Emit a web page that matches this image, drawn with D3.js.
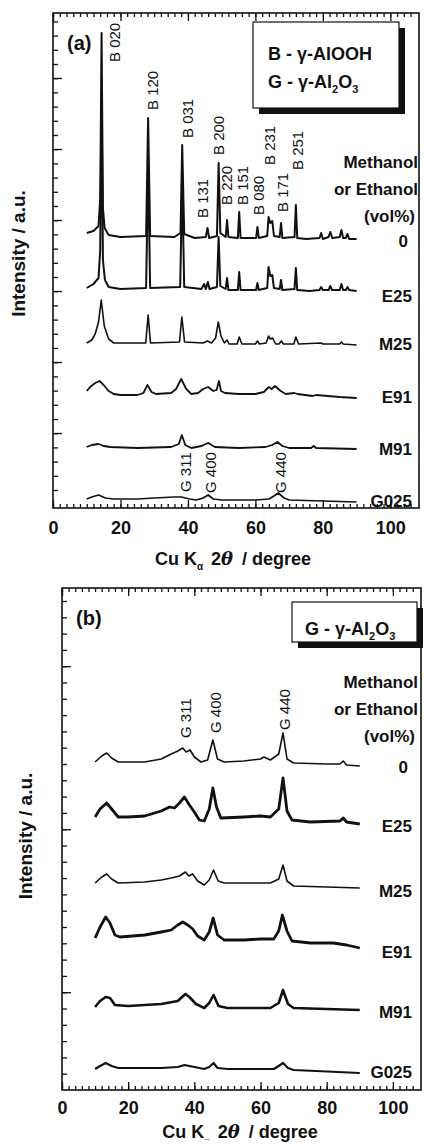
<!DOCTYPE html>
<html>
<head>
<meta charset="utf-8">
<script src="https://cdn.jsdelivr.net/npm/d3@7"></script>
<style>
  body { margin: 0; background: #fff; }
  svg text { font-family: "Liberation Sans", Arial, sans-serif; fill: #111; }
</style>
</head>
<body>
<script>
// sample names, top to bottom
const samples = ["0", "E25", "M25", "E91", "M91", "G025"]

// ---- panel (a): vertical offsets of each trace, then [2theta, intensity above offset]
const offsetsA = [270, 218, 164, 113, 60, 8]
const a0 = [[10,5],[12,7],[13.5,12],[14.0,40],[14.4,205],[14.8,30],[15.3,10],[16.5,3],[20,1],[27.6,2],[28.2,120],[28.8,2],[36,1],[37.8,5],[38.3,93],[38.9,4],[42,0],[45.3,1],[45.8,10],[46.3,0],[48.6,2],[49.1,75],[49.6,5],[51.2,1],[51.6,18],[52.0,1],[54.8,0],[55.2,26],[55.6,0],[60.2,0],[60.6,11],[61.0,0],[63.5,2],[63.9,21],[64.4,15],[65.0,17],[65.5,2],[67.2,1],[67.6,15],[68.0,0],[71.6,1],[72.0,33],[72.4,0],[75,-1],[79.0,0],[79.5,5],[80,-1],[81.7,1],[82.2,6],[82.8,0],[85.0,1],[85.5,8],[86,0],[86.8,0],[87.3,4],[87.8,-1],[90,-1]]
const aE25 = [[10,2],[12,6],[13.5,12],[14.0,40],[14.4,200],[14.8,30],[15.4,10],[16.5,3],[20,1],[27.6,2],[28.2,122],[28.8,2],[37.7,3],[38.3,108],[38.9,3],[44,1],[44.8,6],[45.3,1],[45.9,8],[46.4,1],[48.6,3],[49.1,53],[49.6,4],[51.2,1],[51.6,12],[52,0],[54.8,0],[55.2,18],[55.6,0],[60.2,0],[60.6,7],[61.0,0],[63.5,2],[63.9,23],[64.4,14],[65.0,15],[65.5,2],[67.2,1],[67.6,10],[68.0,0],[71.6,1],[72.0,22],[72.4,0],[76,-1],[79.0,0],[79.5,3],[80,0],[81.7,0],[82.2,4],[82.7,0],[85.0,0],[85.5,6],[86,0],[86.8,0],[87.3,3],[87.8,0],[90,-1]]
const aM25 = [[10,1],[11.5,4],[12.5,10],[13.5,22],[14.3,44],[15.2,18],[16.5,5],[18,1],[27.5,1],[28.2,29],[28.9,1],[37.5,2],[38.2,27],[39,2],[44.5,1],[45.8,3],[47,1],[48.2,6],[49.0,22],[49.8,8],[50.8,1],[51.6,4],[52.2,0],[54.6,0],[55.2,7],[56,0],[60,0],[60.6,3],[61.2,0],[63.2,1],[63.9,8],[64.4,5],[65.1,6],[66,0],[67,0],[67.7,3],[68.3,0],[71.4,0],[72,7],[72.8,0],[79.5,1],[80,0],[85,0],[85.5,2],[86,0],[90,-1]]
const aE91 = [[10,4],[11,8],[12.5,12],[13.8,14],[15,10],[16.5,4],[18,1],[20,0],[25,0],[26.8,2],[28.0,10],[29.2,3],[30.5,1],[35,2],[36.5,6],[38.0,16],[39.5,6],[41,1],[43,2],[44.5,6],[46.0,8],[47.5,4],[48.5,5],[49.2,14],[49.8,4],[51,2],[55,1],[60,1],[62.5,3],[64,8],[64.8,6],[65.8,9],[67.5,4],[69,1],[71.5,2],[72.5,1],[77,-1],[78,0],[85,-2],[90,-3]]
const aM91 = [[10,1],[11.5,3],[13.5,4],[15,2],[17,1],[25,0],[35,1],[37.3,4],[38.2,13],[39.2,3],[41,0],[44,2],[46,5],[48,1],[55,0],[63,1],[65,3],[66.5,6],[68,2],[70,0],[76.5,0],[77.3,2],[78,0],[90,-1]]
const aG025 = [[10,1],[11.5,3],[13.5,5],[15.5,2],[18,1],[25,1],[30,2],[36,3],[38,3],[40.5,1],[42.5,0],[44.5,2],[46,5],[47.5,1],[50,0],[60,0],[64,1],[65.5,4],[66.8,7],[68.5,2],[70,0],[80,-1],[90,-2]]
const patternsA = [a0, aE25, aM25, aE91, aM91, aG025]
const labelYA = [261, 206, 158, 105, 53, 1]

// peak labels of panel (a): [text, 2theta, intensity at the label foot]
const peaksA = [["B 020",18.4,446],["B 120",29.4,398],["B 031",39.8,370],["B 200",49.0,353],["B 131",44.2,290],["B 220",51.6,303],["B 151",56.1,303],["B 080",60.8,293],["B 231",64.1,343],["B 171",68.2,296],["B 251",72.4,338],["G 311",39.2,16],["G 400",46.6,15],["G 440",67.4,15]]

// ---- panel (b)
const offsetsB = [328, 273, 207, 153, 84, 22]
const b0 = [[10,0],[12,6],[13.5,9],[15,4],[17,0],[25,0],[30,3],[33,8],[35,11],[36.5,14],[37.5,10],[38.7,12],[40,5],[42,0],[44,2],[45.6,22],[47,3],[49,0],[55,1],[60,3],[61,5],[63,2],[65.5,8],[66.8,29],[68,3],[70,-1],[80,-2],[84,-2],[85,1],[86,-3],[90,-4]]
const bE25 = [[10,0],[11.5,8],[13.5,14],[15.5,6],[17,0],[20,0],[25,1],[30,6],[32.5,10],[34,9],[35.5,14],[37,20],[38.5,12],[40,5],[41.5,-3],[43,-4],[44.5,8],[45.6,29],[46.7,10],[48,-1],[55,0],[60,1],[63,0],[65.5,8],[66.8,39],[68,6],[69.5,-3],[75,-5],[84,-4],[85,-1],[86,-5],[90,-7]]
const bM25 = [[10,0],[12,6],[13.5,9],[15,4],[17,0],[25,1],[30,3],[33,5],[35.5,7],[37.3,11],[38.3,7],[39.5,9],[41,2],[43,-2],[44.5,3],[45.8,13],[47.2,2],[49,0],[60,0],[63,0],[65.5,4],[66.8,18],[68,2],[70,-3],[80,-4],[90,-5]]
const bE91 = [[10,-1],[11.5,10],[13.2,20],[14.5,14],[16,2],[17.5,0],[25,2],[30,5],[33,7],[35,12],[36.5,15],[38,12],[39.5,8],[41,1],[43,-3],[44.5,5],[45.7,19],[47,2],[49,-3],[55,-3],[60,-2],[64,-2],[65.5,6],[66.6,22],[68,6],[69.5,-4],[75,-6],[82,-6],[86,-8],[90,-11]]
const bM91 = [[10,-1],[11.5,5],[13.2,9],[14.5,8],[16,1],[20,0],[30,2],[35,5],[37.3,12],[38.5,9],[40.5,2],[43,-2],[44.5,3],[45.8,11],[47.3,0],[50,-2],[63,-2],[65.5,3],[66.8,16],[68.3,2],[70,-2],[80,-3],[90,-4]]
const bG025 = [[10,-1],[11.5,2],[13.2,5],[15,2],[17,0],[30,0],[35,1],[37,3],[38.5,2],[40,1],[43,-1],[44.5,1],[45.8,5],[47,0],[50,-1],[64,-1],[65.5,2],[66.8,5],[68.3,0],[70,-2],[90,-5]]
const patternsB = [b0, bE25, bM25, bE91, bM91, bG025]
const labelYB = [317, 258, 193, 132, 72, 12]
const peaksB = [["G 311",37.5,352],["G 400",46.5,357],["G 440",67.4,360]]

const xMajor = [0, 20, 40, 60, 80, 100]
const headerLines = ["Methanol", "or Ethanol", "(vol%)"]

const svg = d3.select("body").append("svg")
              .attr("width", 424)
              .attr("height", 1144)

function drawPanel(p) {
  const x = d3.scaleLinear().domain([0, 108.5]).range([p.left, p.right])
  const y = d3.scaleLinear().domain([0, p.yMax]).range([p.bottom, p.top])
  const g = svg.append("g")

  // axes: minor + major ticks pointing inward
  const bottomMinor = d3.axisBottom(x).tickValues(d3.range(0, 108, 2)).tickSize(-4).tickFormat("")
  const bottomMajor = d3.axisBottom(x).tickValues(xMajor).tickSize(-8).tickPadding(p.labelPad).tickFormat(d3.format("d"))
  const topMinor = d3.axisTop(x).tickValues(d3.range(0, 108, 2)).tickSize(-4).tickFormat("")
  const topMajor = d3.axisTop(x).tickValues(xMajor).tickSize(-8).tickFormat("")
  const leftMinor = d3.axisLeft(y).tickValues(p.yMinor).tickSize(-5).tickFormat("")
  const leftMajor = d3.axisLeft(y).tickValues(p.yMajor).tickSize(-9).tickFormat("")

  const axes = [
    [bottomMinor, `translate(0,${p.bottom})`], [bottomMajor, `translate(0,${p.bottom})`],
    [topMinor, `translate(0,${p.top})`], [topMajor, `translate(0,${p.top})`],
    [leftMinor, `translate(${p.left},0)`], [leftMajor, `translate(${p.left},0)`]
  ]
  axes.forEach(([ax, tr]) => {
    const a = g.append("g").attr("transform", tr).call(ax)
    a.select(".domain").remove()
    a.selectAll("line").attr("stroke", "#111").attr("stroke-width", 1.3)
    a.selectAll("text").attr("fill", "#111").style("font-size", "18px").style("font-weight", "bold")
  })

  g.append("rect")
     .attr("x", p.left).attr("y", p.top)
     .attr("width", p.right - p.left).attr("height", p.bottom - p.top)
     .attr("fill", "none").attr("stroke", "#111").attr("stroke-width", 1.6)

  // traces
  const line = d3.line().x(d => x(d[0])).y(d => y(d[1]))
  g.append("g").selectAll("path")
     .data(p.patterns)
     .join("path")
       .attr("d", (d, i) => line(d.map(v => [v[0], v[1] + p.offsets[i]])))
       .attr("fill", "none")
       .attr("stroke", "#111")
       .attr("stroke-linejoin", "round")
       .attr("stroke-width", (d, i) => p.widths[i])

  // sample names on the right
  g.append("g").selectAll("text")
     .data(samples)
     .join("text")
       .attr("x", (d, i) => i === 0 ? 408 : 412)
       .attr("y", (d, i) => y(p.labelY[i]))
       .attr("text-anchor", "end")
       .style("font-size", "17px").style("font-weight", "bold")
       .text(d => d)

  g.append("g").selectAll("text")
     .data(headerLines)
     .join("text")
       .attr("x", (d, i) => i === 2 ? 415 : 418)
       .attr("y", (d, i) => p.headerY + i * 27)
       .attr("text-anchor", "end")
       .style("font-size", "17px").style("font-weight", "bold")
       .text(d => d)

  // peak assignments, vertical
  g.append("g").selectAll("text")
     .data(p.peaks)
     .join("text")
       .attr("transform", d => `translate(${x(d[1])},${y(d[2])}) rotate(-90)`)
       .attr("dy", "0.36em")
       .style("font-size", "15px")
       .text(d => d[0])

  // panel letter
  g.append("text")
     .attr("x", p.left + 14).attr("y", p.top + 37)
     .style("font-size", "20px").style("font-weight", "bold")
     .text(p.letter)

  // y title
  g.append("text")
     .attr("transform", `translate(${p.yTitleX},${(p.top + p.bottom) / 2 + p.yTitleShift}) rotate(-90)`)
     .attr("text-anchor", "middle")
     .style("font-size", "19px").style("font-weight", "bold")
     .text("Intensity / a.u.")

  // x title
  const xt = g.append("text")
     .attr("x", p.xTitleX).attr("y", p.bottom + p.xTitleDy)
     .attr("text-anchor", "middle")
     .style("font-size", "18px").style("font-weight", "bold")
  xt.append("tspan").text("Cu K")
  xt.append("tspan").attr("dy", p.subDy).style("font-size", "10px").text(p.kSub)
  xt.append("tspan").attr("dy", -p.subDy).attr("dx", 8).text("2")
  xt.append("tspan").style("font-style", "italic").style("font-family", "DejaVu Serif, serif").text("θ")
  xt.append("tspan").attr("dx", 4).text(" / degree")

  // legend box with drop shadow
  const lb = p.legend
  g.append("rect").attr("x", lb.x + 6).attr("y", lb.y + 6).attr("width", lb.w).attr("height", lb.h).attr("fill", "#111")
  g.append("rect").attr("x", lb.x).attr("y", lb.y).attr("width", lb.w).attr("height", lb.h)
     .attr("fill", "#fff").attr("stroke", "#111").attr("stroke-width", 1.2)
  lb.lines.forEach((ln, i) => {
    const t = g.append("text")
       .attr("x", lb.x + lb.tx).attr("y", lb.y + lb.ty + i * 28)
       .style("font-size", "18px").style("font-weight", "bold")
    t.append("tspan").text(ln[0] + " - γ-Al")
    if (ln[1] === "OOH") {
      t.append("tspan").text("OOH")
    } else {
      t.append("tspan").attr("dy", 5).style("font-size", "11px").text("2")
      t.append("tspan").attr("dy", -5).text("O")
      t.append("tspan").attr("dy", 5).style("font-size", "11px").text("3")
    }
  })
}

drawPanel({
  left: 53, right: 419, top: 13, bottom: 508, yMax: 495,
  yMinor: d3.range(18, 495, 14.2), yMajor: d3.range(75, 495, 71),
  patterns: patternsA, offsets: offsetsA, widths: [2, 2, 1.6, 1.8, 1.8, 1.7],
  labelY: labelYA, headerY: 168, peaks: peaksA, letter: "(a)",
  yTitleX: 25, yTitleShift: -7, xTitleX: 233, xTitleDy: 57, labelPad: 13, kSub: "α", subDy: 5,
  legend: { x: 253, y: 22, w: 146, h: 86, tx: 15, ty: 38, lines: [["B", "OOH"], ["G", "2O3"]] }
})

drawPanel({
  left: 62, right: 421, top: 588, bottom: 1090, yMax: 502,
  yMinor: d3.range(16.3, 502, 16.3), yMajor: d3.range(97.8, 502, 163),
  patterns: patternsB, offsets: offsetsB, widths: [1.6, 2.8, 1.6, 2.8, 2.6, 2.2],
  labelY: labelYB, headerY: 688, peaks: peaksB, letter: "(b)",
  yTitleX: 32, yTitleShift: -3, xTitleX: 240, xTitleDy: 48, labelPad: 11, kSub: "_", subDy: 0,
  legend: { x: 292, y: 602, w: 125, h: 40, tx: 13, ty: 33, lines: [["G", "2O3"]] }
})
</script>
</body>
</html>
